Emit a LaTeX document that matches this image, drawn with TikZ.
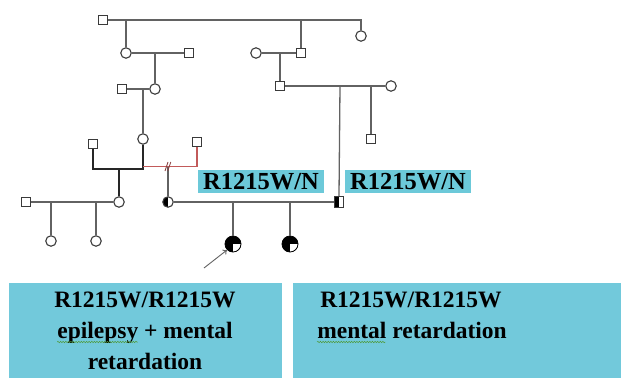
\documentclass[tikz,border=0pt]{standalone}
\usepackage{fontspec}
\setmainfont{Liberation Serif}
\usetikzlibrary{arrows.meta,calc,decorations.pathmorphing}

\definecolor{kin}{HTML}{626262}
\definecolor{sym}{HTML}{3A3A3A}
\definecolor{tagfill}{HTML}{6CC9D9}
\definecolor{boxfill}{HTML}{72C9DB}
\definecolor{divorce}{HTML}{C25A5A}
\definecolor{spellgreen}{HTML}{4F9A3A}

\tikzset{
  male/.style={rectangle, draw=sym, line width=1.1pt, fill=white,
    minimum size=9.5pt, inner sep=0pt},
  female/.style={circle, draw=sym, line width=1.1pt, fill=white,
    minimum size=10.5pt, inner sep=0pt},
  carrierF/.style={female, path picture={\fill[black]
    (path picture bounding box.north west) rectangle (path picture bounding box.south);}},
  carrierM/.style={male, minimum width=9pt, minimum height=11pt, path picture={\fill[black]
    (path picture bounding box.north west) rectangle (path picture bounding box.south);}},
  affectedF/.style={circle, draw=black, line width=0.8pt, fill=black,
    minimum size=16pt, inner sep=0pt, path picture={\fill[white]
    (path picture bounding box.center) rectangle (path picture bounding box.south east);}},
  kinline/.style={draw=kin, line width=1.3pt},
  tag/.style={fill=tagfill, minimum width=126pt, minimum height=23pt, inner sep=0pt,
    font=\fontsize{24.5}{24.5}\selectfont\bfseries},
  boxline/.style={anchor=base, inner sep=0pt, font=\fontsize{23.5}{23.5}\selectfont\bfseries},
  spellwave/.style={draw=spellgreen, line width=0.5pt,
    decorate, decoration={snake, amplitude=0.7pt, segment length=2.6pt}},
}

\begin{document}
\begin{tikzpicture}[x=1pt,y=-1pt]
\useasboundingbox (0,0) rectangle (621,378);

% result boxes
\fill[boxfill] (9,283) rectangle (282,378);
\fill[boxfill] (293,283) rectangle (621,378);
\node[boxline] (l1) at (145,307) {R1215W/R1215W};
\node[boxline] (l2) at (145,338) {epilepsy + mental};
\node[boxline] (l3) at (145,369) {retardation};
\node[boxline] (r1) at (411,307) {R1215W/R1215W};
\node[boxline] (r2) at (412,338) {mental retardation};
% spell-check underlines
\draw[spellwave] ($(l2.base west)+(0,4)$) -- ($(l2.base west)!0.46!(l2.base east)+(0,4)$);
\draw[spellwave] ($(r2.base west)+(0,4)$) -- ($(r2.base west)!0.36!(r2.base east)+(0,4)$);

% generation I
\node[male] (m1) at (103,20) {};
\node[female] (f1) at (361,36) {};
% generation II
\node[female] (c1) at (126,53) {};
\node[male] (s1) at (189,53) {};
\node[female] (c2) at (256,53) {};
\node[male] (s2) at (301,53) {};
% generation III
\node[male] (s3) at (122,89) {};
\node[female] (c3) at (155,89) {};
\node[male] (s4) at (280,86) {};
\node[female] (c4) at (391,86) {};
% generation IV
\node[male] (s6) at (93,144) {};
\node[female] (c5) at (143,139) {};
\node[male] (s7) at (197,142) {};
\node[male] (s5) at (371,139) {};
% generation V
\node[male] (s8) at (26,202) {};
\node[female] (c6) at (119,202) {};
\node[carrierF] (h1) at (168,202) {};
\node[carrierM] (h2) at (339,202) {};
% generation VI
\node[female] (c7) at (51,241) {};
\node[female] (c8) at (96,241) {};
\node[affectedF] (p1) at (233,244) {};
\node[affectedF] (p2) at (290,244) {};

% junction points
\coordinate (j1) at (126,20);
\coordinate (j2) at (301,20);
\coordinate (j3) at (361,20);
\coordinate (j4) at (155,53);
\coordinate (j5) at (280,53);
\coordinate (j6) at (143,89);
\coordinate (j7) at (340,86);
\coordinate (j8) at (371,86);
\coordinate (j9) at (143,169);
\coordinate (j10) at (119,169);
\coordinate (j11) at (143,166.5);
\coordinate (j12) at (168,166.5);
\coordinate (j13) at (51,202);
\coordinate (j14) at (96,202);
\coordinate (j15) at (233,202);
\coordinate (j16) at (290,202);

% kinship lines
\begin{scope}[kinline]
\draw (m1.east) -- (j3) -- (f1.north);
\draw (j1) -- (c1.north);
\draw (j2) -- (s2.north);
\draw (c1.east) -- (s1.west);
\draw (j4) -- (c3.north);
\draw (c2.east) -- (s2.west);
\draw (j5) -- (s4.north);
\draw (s3.east) -- (c3.west);
\draw (j6) -- (c5.north);
\draw (s4.east) -- (c4.west);
\draw (j7) -- (h2.north);
\draw (j8) -- (s5.north);
\draw (j12) -- (h1.north);
\draw (s8.east) -- (c6.west);
\draw (j13) -- (c7.north);
\draw (j14) -- (c8.north);
\draw (h1.east) -- (h2.west);
\draw (j15) -- (p1.north);
\draw (j16) -- (p2.north);
\end{scope}
\draw[black!85, line width=1.2pt] (s6.south) |- (j9) -- (c5.south);
\draw[black!85, line width=1.2pt] (j10) -- (c6.north);
\draw[divorce, line width=1.3pt] (j11) -| (s7.south);
\draw[divorce!70!black, line width=0.8pt] (165,171) -- (168,162) (167.8,171) -- (170.8,162);

% genotype tags
\node[tag] (g1) at (261,181.5) {R1215W/N};
\node[tag] (g2) at (408,181.5) {R1215W/N};

% proband arrow
\coordinate (a0) at (204,268);
\draw[kin, line width=0.9pt, -{To[length=4pt,width=6pt]}] (a0) -- (p1.south west);
\end{tikzpicture}
\end{document}
